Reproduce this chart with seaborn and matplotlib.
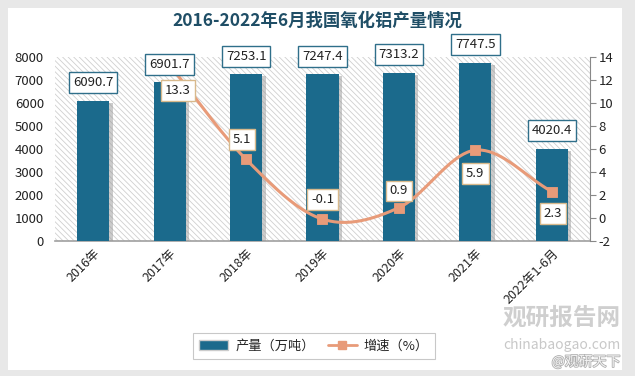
import numpy as np
import pandas as pd
import matplotlib
matplotlib.use("Agg")
import matplotlib.pyplot as plt
import matplotlib.patheffects as pe
from matplotlib.patches import Rectangle
from matplotlib.lines import Line2D
from matplotlib.patches import Patch
import seaborn as sns

categories = ["2016年", "2017年", "2018年", "2019年", "2020年", "2021年", "2022年1-6月"]
output = [6090.7, 6901.7, 7253.1, 7247.4, 7313.2, 7747.5, 4020.4]
growth = [None, 13.3, 5.1, -0.1, 0.9, 5.9, 2.3]
output_labels = ["6090.7", "6901.7", "7253.1", "7247.4", "7313.2", "7747.5", "4020.4"]
growth_labels = [None, "13.3", "5.1", "-0.1", "0.9", "5.9", "2.3"]
left_ticks = [0, 1000, 2000, 3000, 4000, 5000, 6000, 7000, 8000]
right_ticks = [-2, 0, 2, 4, 6, 8, 10, 12, 14]

sns.set_theme(style="white")
plt.rcParams['font.family'] = ['Noto Sans CJK SC', 'DejaVu Sans']
plt.rcParams['hatch.linewidth'] = 0.6
plt.rcParams['hatch.color'] = '#cfcfcf'

BAR = '#1B6A8C'
LINE = '#E89B79'

fig = plt.figure(figsize=(6.35, 3.76), dpi=100)
fig.patch.set_facecolor('#E8E8E8')
fig.add_artist(Rectangle((8 / 635, 6 / 376), 614 / 635, 362 / 376, transform=fig.transFigure,
                         facecolor='white', edgecolor='none', zorder=-10))

ax = fig.add_axes([55 / 635, 1 - 241 / 376, 535 / 635, 184 / 376])
ax.patch.set_alpha(0)
ax.add_patch(Rectangle((0, 0), 1, 1, transform=ax.transAxes, facecolor='white',
                       edgecolor='#cfcfcf', hatch='\\\\\\\\\\\\', lw=0, zorder=0))

df = pd.DataFrame({"cat": categories, "output": output})
sns.barplot(data=df, x="cat", y="output", color=BAR, width=0.42, ax=ax, zorder=3,
            saturation=1, edgecolor='none')
for p in ax.patches:
    if p.get_facecolor()[:3] != (1.0, 1.0, 1.0):
        p.set_path_effects([pe.SimplePatchShadow(offset=(2.5, -1.5), shadow_rgbFace='#999999', alpha=0.5),
                            pe.Normal()])

ax.set_xlim(-0.5, 6.5)
ax.set_ylim(0, 8000)
ax.set_yticks(left_ticks)
ax.set_yticklabels([str(t) for t in left_ticks], fontsize=9.5, color='#222222')
ax.set_xlabel("")
ax.set_ylabel("")
ax.tick_params(axis='y', length=0, pad=8)
ax.tick_params(axis='x', length=0, pad=4)
ax.set_xticks(range(len(categories)))
ax.set_xticklabels(categories, rotation=45, ha='right', va='top', rotation_mode='anchor',
                   fontsize=9, color='#222222')
for s in ['top', 'left', 'right']:
    ax.spines[s].set_visible(False)
ax.spines['bottom'].set_color('#a0a0a0')
ax.spines['bottom'].set_linewidth(1.2)

ax2 = ax.twinx()
ax2.set_ylim(-2, 14)
ax2.set_yticks(right_ticks)
ax2.set_yticklabels([str(t) for t in right_ticks], fontsize=9.5, color='#222222')
ax2.tick_params(axis='y', length=4, width=0.8, color='#888888', pad=2, right=True)
for s in ['top', 'left', 'bottom']:
    ax2.spines[s].set_visible(False)
ax2.spines['right'].set_color('#888888')
ax2.spines['right'].set_linewidth(0.8)

# smoothed line (Catmull-Rom through the data points)
gx = np.array([i for i, g in enumerate(growth) if g is not None], dtype=float)
gy = np.array([g for g in growth if g is not None], dtype=float)
px = np.concatenate([[2 * gx[0] - gx[1]], gx, [2 * gx[-1] - gx[-2]]])
py = np.concatenate([[2 * gy[0] - gy[1]], gy, [2 * gy[-1] - gy[-2]]])
sx, sy = [], []
t = np.linspace(0, 1, 40)
for k in range(1, len(px) - 2):
    for arr, out in ((px, sx), (py, sy)):
        p0, p1, p2, p3 = arr[k - 1], arr[k], arr[k + 1], arr[k + 2]
        out.extend(0.5 * ((2 * p1) + (-p0 + p2) * t + (2 * p0 - 5 * p1 + 4 * p2 - p3) * t ** 2
                          + (-p0 + 3 * p1 - 3 * p2 + p3) * t ** 3))
ax2.plot(sx, sy, color=LINE, lw=2.2, zorder=4)
gdf = pd.DataFrame({"x": gx, "y": gy})
sns.scatterplot(data=gdf, x="x", y="y", marker='s', s=60, color=LINE, edgecolor=LINE, ax=ax2, zorder=5)
ax2.set_xlabel("")
ax2.set_ylabel("")

# bar value labels (on the upper axes so they sit above the line)
for i, (v, lab) in enumerate(zip(output, output_labels)):
    ax2.annotate(lab, (i, v), xycoords=ax.transData, xytext=(0, 13), textcoords='offset points',
                 ha='center', va='center', fontsize=9.5, color='#222222', zorder=6, annotation_clip=False,
                 bbox=dict(boxstyle='square,pad=0.3', facecolor='white', edgecolor='#2F6F8A', lw=1.0))

offsets = {1: (6, -18), 2: (-3, 14), 3: (0, 14), 4: (0, 12), 5: (0, -17), 6: (1, -16)}
for i, lab in enumerate(growth_labels):
    if lab is None:
        continue
    dx, dy = offsets[i]
    ax2.annotate(lab, (i, growth[i]), xytext=(dx, dy), textcoords='offset points', ha='center',
                 va='center', fontsize=9.5, color='#222222', zorder=7,
                 bbox=dict(boxstyle='square,pad=0.3', facecolor='white', edgecolor='#D8B98C', lw=1.0))

fig.text(0.5, 1 - 21 / 376, "2016-2022年6月我国氧化铝产量情况", ha='center', va='center',
         fontsize=12.5, fontweight='bold', color='#1F4E66')

# watermark
fig.text(562 / 635, 1 - 318 / 376, "观研报告网", ha='center', va='center', fontsize=17,
         fontweight='bold', color='#cfcfcf', zorder=1)
fig.text(562 / 635, 1 - 345 / 376, "chinabaogao.com", ha='center', va='center', fontsize=10,
         color='#c8c8c8', zorder=1)
fig.text(586 / 635, 1 - 362 / 376, "@观研天下", ha='center', va='center', fontsize=10,
         color='#f4f4f4', zorder=1,
         path_effects=[pe.withStroke(linewidth=1.2, foreground='#b0b0b0')])

handles = [Patch(facecolor=BAR, edgecolor='#cccccc', label='产量（万吨）'),
           Line2D([0], [0], color=LINE, lw=2, marker='s', markersize=6, label='增速（%）')]
leg = fig.legend(handles=handles, loc='center', bbox_to_anchor=(314 / 635, 1 - 346 / 376), ncol=2,
                 fontsize=9.5, frameon=True, fancybox=False, edgecolor='#bbbbbb',
                 handlelength=2.2, columnspacing=1.0, handletextpad=0.5, borderpad=0.5)
leg.get_frame().set_linewidth(0.8)

fig.savefig("out.png", dpi=100, facecolor=fig.get_facecolor())
